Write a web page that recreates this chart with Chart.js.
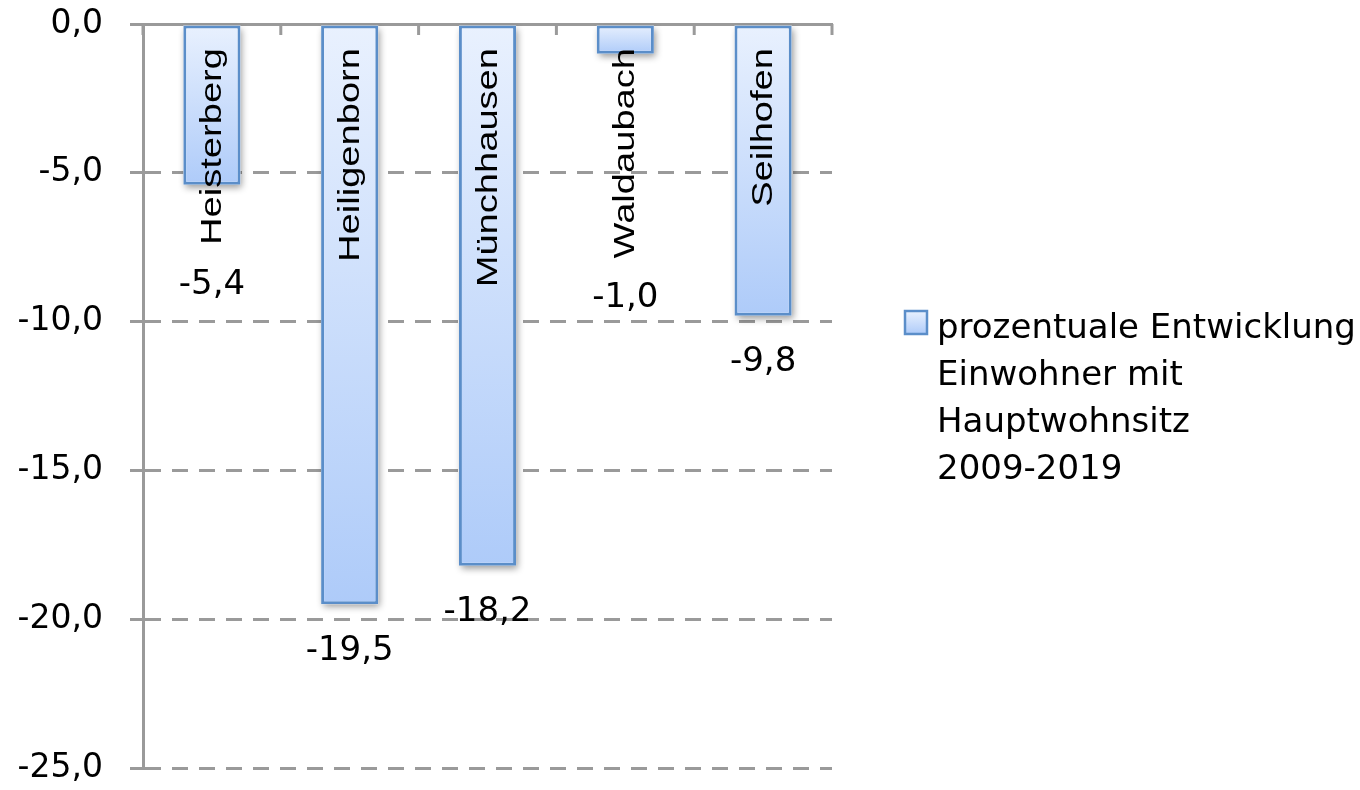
<!DOCTYPE html>
<html>
<head>
<meta charset="utf-8">
<script src="https://cdn.jsdelivr.net/npm/chart.js@4"></script>
<style>
  html, body { margin: 0; padding: 0; background: #ffffff; }
  #wrap { width: 1360px; height: 790px; }
</style>
</head>
<body>
<div id="wrap"><canvas id="c" width="1360" height="790"></canvas></div>
<script>
// Percentage change of residents with primary residence, 2009-2019
const categories = ['Heisterberg', 'Heiligenborn', 'Münchhausen', 'Waldaubach', 'Seilhofen'];
const changePercent = [-5.4, -19.5, -18.2, -1.0, -9.8];
const seriesLabelLines = ['prozentuale Entwicklung', 'Einwohner mit', 'Hauptwohnsitz', '2009-2019'];
const yTickValues = [0, -5, -10, -15, -20, -25];

const AXIS_GREY = '#9a9a9a';
const BAR_EDGE = '#5b8ec9';
const TEXT_FONT = '"DejaVu Sans", Verdana, sans-serif';
const CAT_FONT = '"Liberation Sans", Arial, sans-serif';
const CAT_SIZE = 30;
const CAT_STRETCH = 1.27;

const fmt = v => v.toFixed(1).replace('.', ',');

function barGradient(ctx, y0, y1) {
  const g = ctx.createLinearGradient(0, y0, 0, y1);
  g.addColorStop(0, '#e9f1fe');
  g.addColorStop(1, '#aecbf9');
  return g;
}

// soft drop shadow under each bar
const barShadow = {
  id: 'barShadow',
  beforeDatasetsDraw(chart) {
    const ctx = chart.ctx;
    const meta = chart.getDatasetMeta(0);
    ctx.save();
    ctx.shadowColor = 'rgba(0,0,0,0.4)';
    ctx.shadowBlur = 7;
    ctx.shadowOffsetX = 2;
    ctx.shadowOffsetY = 3;
    ctx.fillStyle = '#ffffff';
    meta.data.forEach(bar => {
      const top = Math.min(bar.y, bar.base);
      ctx.fillRect(bar.x - bar.width / 2, top, bar.width, Math.abs(bar.base - bar.y));
    });
    ctx.restore();
  }
};

// short inward tick marks on the category axis
const categoryTicks = {
  id: 'categoryTicks',
  beforeDatasetsDraw(chart) {
    const ctx = chart.ctx, xs = chart.scales.x, top = chart.chartArea.top;
    ctx.save();
    ctx.strokeStyle = AXIS_GREY;
    ctx.lineWidth = 3;
    for (let i = 0; i <= categories.length; i++) {
      const x = xs.getPixelForValue(i - 0.5);
      ctx.beginPath();
      ctx.moveTo(x, top);
      ctx.lineTo(x, top + 11);
      ctx.stroke();
    }
    ctx.restore();
  }
};

// rotated category names inside the bars, plus value labels below
const barLabels = {
  id: 'barLabels',
  afterDatasetsDraw(chart) {
    const ctx = chart.ctx, xs = chart.scales.x;
    const top = chart.chartArea.top;
    const meta = chart.getDatasetMeta(0);
    ctx.save();
    ctx.fillStyle = '#000000';
    categories.forEach((name, i) => {
      const cx = xs.getPixelForValue(i);
      ctx.font = CAT_SIZE + 'px ' + CAT_FONT;
      const nameLen = ctx.measureText(name).width * CAT_STRETCH;
      const nameStart = top + 24;
      ctx.save();
      ctx.translate(cx + 9, nameStart);
      ctx.rotate(-Math.PI / 2);
      ctx.scale(CAT_STRETCH, 1);
      ctx.textAlign = 'right';
      ctx.textBaseline = 'alphabetic';
      ctx.fillText(name, 0, 0);
      ctx.restore();

      const barEnd = meta.data[i].y;
      const ly = Math.max(barEnd + 47, nameStart + nameLen + 40);
      ctx.font = '34px ' + TEXT_FONT;
      ctx.textAlign = 'center';
      ctx.textBaseline = 'middle';
      ctx.fillText(fmt(changePercent[i]), cx, ly);
    });
    ctx.restore();
  }
};

// legend on the right with a wrapped series name
const sideLegend = {
  id: 'sideLegend',
  afterDraw(chart) {
    const ctx = chart.ctx;
    const lineH = 47;
    const blockH = lineH * seriesLabelLines.length;
    const left = chart.chartArea.right + 73;
    const firstBase = chart.height / 2 - blockH / 2 + 37;
    ctx.save();
    const bx = left, by = firstBase - 27, bw = 22, bh = 23;
    ctx.fillStyle = barGradient(ctx, by, by + bh);
    ctx.fillRect(bx, by, bw, bh);
    ctx.strokeStyle = BAR_EDGE;
    ctx.lineWidth = 2.5;
    ctx.strokeRect(bx, by, bw, bh);
    ctx.fillStyle = '#000000';
    ctx.font = '34px ' + TEXT_FONT;
    ctx.textAlign = 'left';
    ctx.textBaseline = 'alphabetic';
    seriesLabelLines.forEach((line, i) => {
      ctx.fillText(line, left + 32, firstBase + i * lineH);
    });
    ctx.restore();
  }
};

new Chart(document.getElementById('c'), {
  type: 'bar',
  data: {
    labels: categories,
    datasets: [{
      label: seriesLabelLines.join(' '),
      data: changePercent,
      backgroundColor: (c) => {
        const chart = c.chart;
        if (!chart.chartArea || c.type !== 'data') return '#c9ddfb';
        const ys = chart.scales.y;
        return barGradient(chart.ctx, ys.getPixelForValue(0), ys.getPixelForValue(c.raw));
      },
      borderColor: BAR_EDGE,
      borderWidth: 3,
      borderSkipped: false,
      barPercentage: 0.415,
      categoryPercentage: 1.0
    }]
  },
  options: {
    responsive: false,
    animation: false,
    events: [],
    layout: { padding: { top: 24, right: 528, bottom: 22, left: 0 } },
    plugins: { legend: { display: false }, tooltip: { enabled: false } },
    scales: {
      x: {
        position: 'top',
        offset: true,
        ticks: { display: false },
        grid: { display: false },
        border: { display: true, color: AXIS_GREY, width: 3 },
        afterFit: s => { s.height = 0; s.paddingLeft = 0; s.paddingRight = 0; }
      },
      y: {
        min: -25,
        max: 0,
        afterBuildTicks: s => { s.ticks = yTickValues.map(v => ({ value: v })); },
        afterFit: s => { s.width = 143; s.paddingTop = 0; s.paddingBottom = 0; },
        ticks: {
          color: '#000000',
          padding: 27,
          font: { family: TEXT_FONT, size: 33 },
          callback: v => fmt(v)
        },
        grid: {
          color: AXIS_GREY,
          lineWidth: 3,
          tickLength: 13,
          tickColor: AXIS_GREY,
          tickWidth: 3,
          tickBorderDash: []
        },
        border: { display: true, color: AXIS_GREY, width: 3, dash: [16, 11] }
      }
    }
  },
  plugins: [barShadow, categoryTicks, barLabels, sideLegend]
});
</script>
</body>
</html>
